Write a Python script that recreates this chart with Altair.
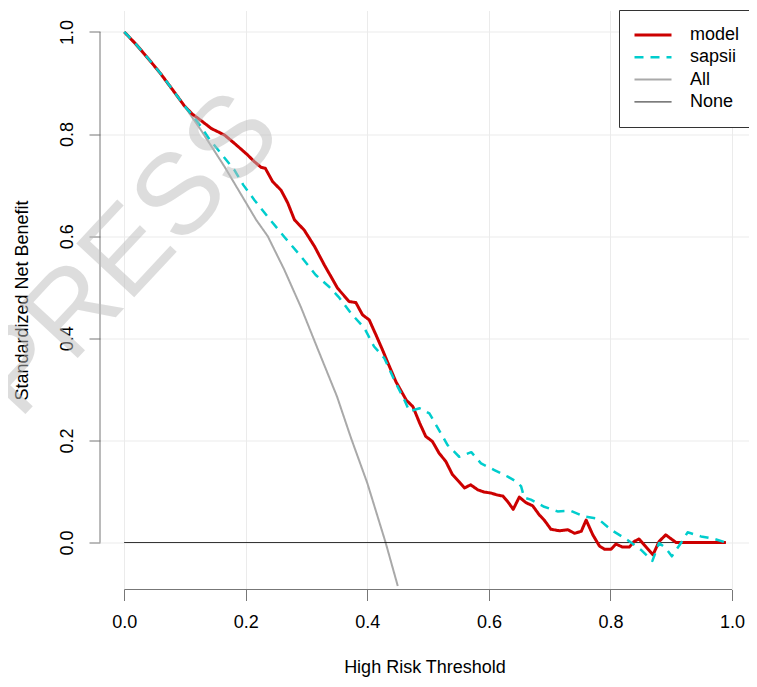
import altair as alt
import pandas as pd

# ---------------- data ----------------
series_names = ["model", "sapsii", "All", "None"]
series_colors = ["#CC0000", "#00CDCD", "#A9A9A9", "#000000"]
series_dash = [[1, 0], [9, 7], [1, 0], [1, 0]]
series_width = [3, 2.5, 2, 1]
draw_order = ["All", "None", "model", "sapsii"]

model_t = [0.0, 0.02, 0.04, 0.06, 0.08, 0.099, 0.112, 0.129, 0.143, 0.165, 0.184,
           0.203, 0.214, 0.225, 0.232, 0.244, 0.258, 0.269, 0.280, 0.296, 0.313,
           0.329, 0.351, 0.370, 0.381, 0.392, 0.403, 0.414, 0.425, 0.433, 0.447,
           0.464, 0.475, 0.486, 0.496, 0.507, 0.518, 0.529, 0.540, 0.551, 0.560,
           0.570, 0.582, 0.592, 0.603, 0.614, 0.623, 0.631, 0.640, 0.650, 0.661,
           0.672, 0.683, 0.691, 0.702, 0.716, 0.730, 0.741, 0.752, 0.760, 0.771,
           0.782, 0.790, 0.801, 0.809, 0.820, 0.831, 0.839, 0.847, 0.858, 0.870,
           0.880, 0.891, 0.908, 0.99]
model_v = [1.0, 0.975, 0.947, 0.918, 0.886, 0.855, 0.839, 0.824, 0.811, 0.798, 0.779,
           0.759, 0.746, 0.735, 0.733, 0.707, 0.690, 0.665, 0.632, 0.612, 0.580,
           0.544, 0.498, 0.472, 0.470, 0.446, 0.436, 0.407, 0.377, 0.354, 0.315,
           0.279, 0.266, 0.234, 0.208, 0.198, 0.175, 0.159, 0.133, 0.119, 0.107,
           0.113, 0.103, 0.099, 0.097, 0.093, 0.091, 0.080, 0.065, 0.089, 0.078,
           0.072, 0.054, 0.044, 0.026, 0.023, 0.025, 0.018, 0.022, 0.044, 0.015,
           -0.007, -0.013, -0.013, -0.003, -0.009, -0.009, 0.002, 0.007, -0.008, -0.024,
           0.002, 0.015, 0.0, 0.0]

sapsii_t = [0.0, 0.02, 0.04, 0.06, 0.08, 0.099, 0.112, 0.126, 0.14, 0.159, 0.181,
            0.196, 0.214, 0.236, 0.263, 0.291, 0.315, 0.337, 0.354, 0.373, 0.395,
            0.411, 0.428, 0.444, 0.461, 0.469, 0.486, 0.502, 0.516, 0.532, 0.551,
            0.571, 0.587, 0.609, 0.631, 0.647, 0.653, 0.658, 0.669, 0.691, 0.713,
            0.735, 0.757, 0.779, 0.801, 0.828, 0.850, 0.869, 0.880, 0.891, 0.901,
            0.916, 0.927, 0.949, 0.971, 0.99]
sapsii_v = [1.0, 0.975, 0.947, 0.918, 0.886, 0.855, 0.837, 0.815, 0.790, 0.762, 0.730,
            0.700, 0.671, 0.638, 0.599, 0.560, 0.524, 0.501, 0.479, 0.449, 0.420,
            0.384, 0.361, 0.319, 0.279, 0.257, 0.263, 0.253, 0.224, 0.191, 0.168,
            0.177, 0.155, 0.142, 0.129, 0.118, 0.110, 0.088, 0.084, 0.070, 0.061,
            0.062, 0.051, 0.047, 0.025, 0.005, -0.014, -0.036, -0.001, -0.011, -0.027,
            -0.001, 0.020, 0.012, 0.007, 0.0]

all_t = [0.0, 0.05, 0.10, 0.126, 0.165, 0.217, 0.236, 0.263, 0.291, 0.318, 0.35,
         0.373, 0.40, 0.43, 0.45]
all_v = [1.0, 0.932, 0.853, 0.808, 0.736, 0.632, 0.600, 0.535, 0.460, 0.380, 0.286,
         0.205, 0.116, 0.0, -0.085]

none_t = [0.0, 0.99]
none_v = [0.0, 0.0]

x_ticks = [0.0, 0.2, 0.4, 0.6, 0.8, 1.0]
y_ticks = [0.0, 0.2, 0.4, 0.6, 0.8, 1.0]
x_domain = [-0.04, 1.028]
y_domain = [-0.092, 1.042]

watermark_text = ["IN PRESS"]
watermark_x = [0.222]
watermark_y = [0.843]

# ---------------- build table ----------------
rows = []
for name, ts, vs in [("model", model_t, model_v), ("sapsii", sapsii_t, sapsii_v),
                     ("All", all_t, all_v), ("None", none_t, none_v)]:
    for i, (t, v) in enumerate(zip(ts, vs)):
        rows.append({"series": name, "t": t, "v": v, "i": i})
df = pd.DataFrame(rows)

FONT = "Liberation Sans"
AX = "#777777"

xscale = alt.Scale(domain=x_domain, nice=False, zero=False)
yscale = alt.Scale(domain=y_domain, nice=False, zero=False)

x_axis = alt.Axis(values=x_ticks, format=".1f", domain=False, tickSize=11, tickColor=AX,
                  labelFontSize=18, labelColor="#000000", labelPadding=13, labelFont=FONT,
                  grid=True, gridColor="#EBEBEB", gridWidth=1,
                  title="High Risk Threshold", titleFontSize=18, titleFontWeight="normal",
                  titleColor="#000000", titleFont=FONT, titleY=78, titleBaseline="middle")
y_axis = alt.Axis(values=y_ticks, format=".1f", domain=False, tickSize=11, tickColor=AX,
                  labelFontSize=18, labelColor="#000000", labelPadding=17, labelFont=FONT,
                  labelAngle=270, labelAlign="center", labelBaseline="alphabetic",
                  grid=True, gridColor="#EBEBEB", gridWidth=1,
                  title="Standardized Net Benefit", titleFontSize=18, titleFontWeight="normal",
                  titleColor="#000000", titleFont=FONT, titleX=-78, titleAngle=270,
                  titleBaseline="middle", titleAlign="center")

legend = alt.Legend(title=None, orient="none", legendX=519, legendY=-0.5,
                    strokeColor="#333333", fillColor="#FFFFFF", padding=14,
                    labelFontSize=18, labelFont=FONT, labelColor="#000000",
                    symbolType="stroke", symbolSize=1369, clipHeight=22,
                    rowPadding=0.3, labelOffset=17)

enc = dict(
    x=alt.X("t:Q", scale=xscale, axis=x_axis),
    y=alt.Y("v:Q", scale=yscale, axis=y_axis),
    color=alt.Color("series:N", scale=alt.Scale(domain=series_names, range=series_colors),
                    legend=legend),
    strokeDash=alt.StrokeDash("series:N", scale=alt.Scale(domain=series_names, range=series_dash),
                              legend=legend),
    strokeWidth=alt.StrokeWidth("series:N",
                                scale=alt.Scale(type="ordinal", domain=series_names, range=series_width),
                                legend=legend),
    order=alt.Order("i:Q"),
)

base = alt.Chart(df)
layers = []
for name in draw_order:
    layers.append(base.transform_filter(alt.datum.series == name)
                  .mark_line(clip=True, strokeCap="butt", strokeJoin="round").encode(**enc))

one = pd.DataFrame({"k": [0]})
x_axis_line = alt.Chart(one).mark_rule(color=AX, strokeWidth=1).encode(
    x=alt.XDatum(x_ticks[0]), x2=alt.X2Datum(x_ticks[-1]),
    y=alt.YDatum(y_domain[0]))
y_axis_line = alt.Chart(one).mark_rule(color=AX, strokeWidth=1).encode(
    y=alt.YDatum(y_ticks[0]), y2=alt.Y2Datum(y_ticks[-1]),
    x=alt.XDatum(x_domain[0]))

wm = pd.DataFrame({"txt": watermark_text})
watermark = alt.Chart(wm).mark_text(fontSize=115, font=FONT, angle=313, align="right",
                                    baseline="middle", color="#BDBDBD", opacity=0.5).encode(
    x=alt.XDatum(watermark_x[0]), y=alt.YDatum(watermark_y[0]), text="txt:N")

chart = alt.layer(*layers, x_axis_line, y_axis_line, watermark).properties(
    width=649, height=579,
    padding={"left": 92, "top": 2.5, "right": 0, "bottom": 90},
    autosize=alt.AutoSizeParams(type="none"),
    background="#FFFFFF",
).configure(font=FONT).configure_view(stroke="transparent")

chart.save("out.html", embed_options={"renderer": "svg", "actions": False})
